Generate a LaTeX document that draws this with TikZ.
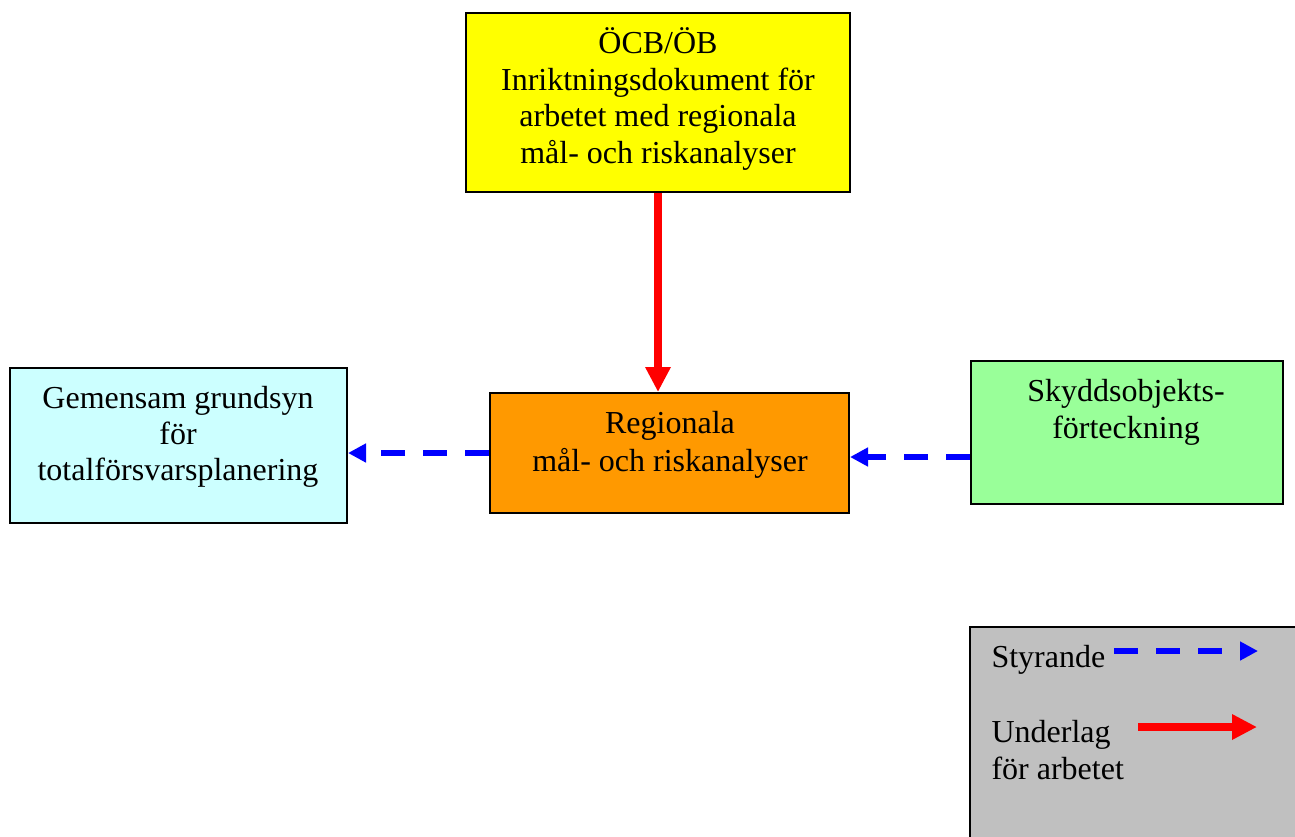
\documentclass[tikz,border=0pt]{standalone}
\usepackage{fontspec}
\setmainfont{Liberation Serif}
\usetikzlibrary{fit,arrows.meta}
\definecolor{boxyellow}{HTML}{FFFF00}
\definecolor{boxcyan}{HTML}{CCFFFF}
\definecolor{boxorange}{HTML}{FF9900}
\definecolor{boxgreen}{HTML}{99FF99}
\definecolor{legendgray}{HTML}{C0C0C0}
\definecolor{steerblue}{HTML}{0000FF}
\definecolor{basisred}{HTML}{FF0000}
\begin{document}
\begin{tikzpicture}[x=0.375pt,y=-0.375pt,
  box/.style={draw=black, line width=0.75pt, inner sep=0pt},
  txt/.style={anchor=base, inner sep=0pt, font=\fontsize{12}{14}\selectfont},
  lbl/.style={anchor=base west, inner sep=0pt, font=\fontsize{12}{14}\selectfont},
  steer/.style={draw=steerblue, line width=2.25pt, dash pattern=on 9pt off 6.75pt,
    -{Triangle[length=6.75pt,width=6.75pt]}},
  basis/.style={draw=basisred, line width=3pt,
    -{Triangle[length=9.375pt,width=9pt]}}]
\clip (0,0) rectangle (1295,836);
\fill[white] (0,0) rectangle (1295,836);

% boxes
\node[box, fill=boxyellow, fit={(466,13) (850,192)}] (ocb) {};
\node[box, fill=boxcyan, fit={(10,368) (347,523)}] (grund) {};
\node[box, fill=boxorange, fit={(490,393) (849,513)}] (reg) {};
\node[box, fill=boxgreen, fit={(971,361) (1283,504)}] (skydd) {};
\node[box, fill=legendgray, fit={(970,627) (1320,860)}] (legend) {};

% box texts
\node[txt] (ocb1) at (658,53) {ÖCB/ÖB};
\node[txt] (ocb2) at (658,90) {Inriktningsdokument för};
\node[txt] (ocb3) at (658,126) {arbetet med regionala};
\node[txt] (ocb4) at (658,163) {mål- och riskanalyser};

\node[txt] (grund1) at (178,408) {Gemensam grundsyn};
\node[txt] (grund2) at (178,444) {för};
\node[txt] (grund3) at (178,480) {totalförsvarsplanering};

\node[txt] (reg1) at (670,433) {Regionala};
\node[txt] (reg2) at (670,471) {mål- och riskanalyser};

\node[txt] (skydd1) at (1126,401) {Skyddsobjekts-};
\node[txt] (skydd2) at (1126,438) {förteckning};

% connectors
\draw[basis] (ocb.south) -- (ocb.south |- reg.north);
\draw[steer] (reg.west) -- (reg.west -| grund.east);
\draw[steer] ([yshift=-1.5pt]skydd.west |- reg.east) -- ([yshift=-1.5pt]reg.east);

% legend
\node[lbl] (legsteer) at (991,667) {Styrande};
\node[lbl] (legbasis1) at (991,742) {Underlag};
\node[lbl] (legbasis2) at (991,779) {för arbetet};
\coordinate (steerA) at (1114,651);
\coordinate (steerB) at (1258,651);
\coordinate (basisA) at (1138,727);
\coordinate (basisB) at (1257,727);
\draw[steer] (steerA) -- (steerB);
\draw[basis] (basisA) -- (basisB);
\end{tikzpicture}
\end{document}
